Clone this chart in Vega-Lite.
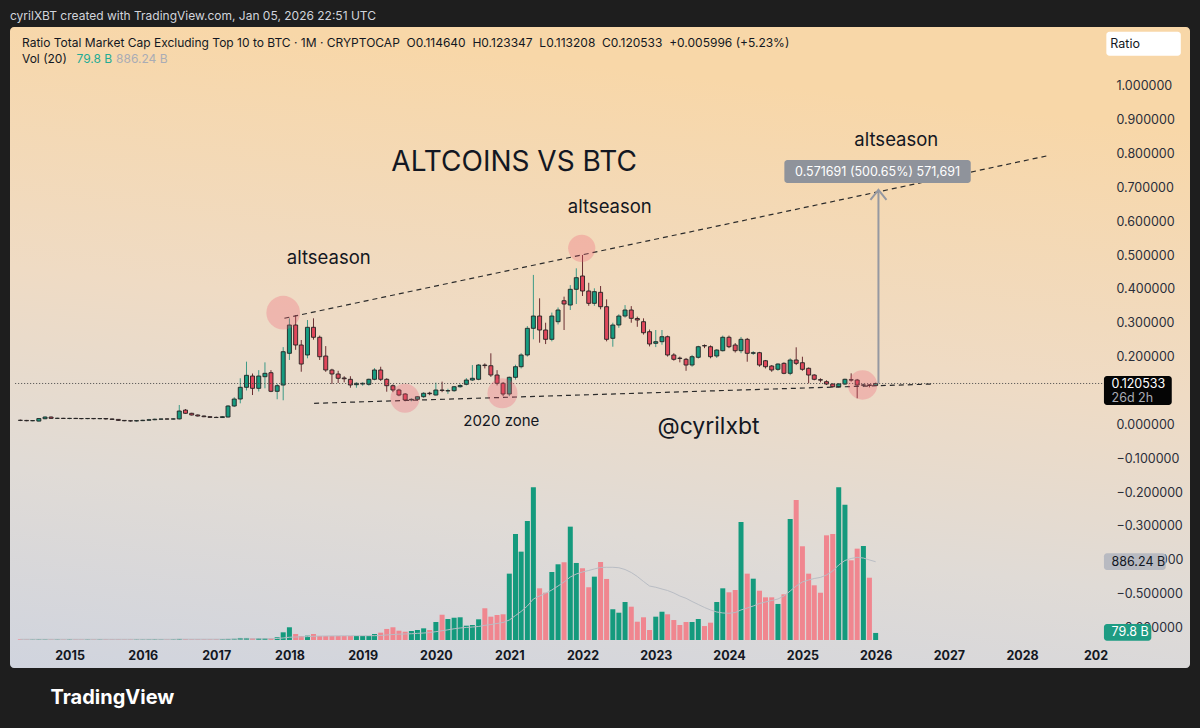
{
"$schema":"https://vega.github.io/schema/vega-lite/v6.json",
"width":1180,"height":641,
"autosize":{"type":"none"},
"padding":{"left":10,"top":27,"right":10,"bottom":60},
"background":"#1e1e1e",
"title":{"text":"cyrilXBT created with TradingView.com, Jan 05, 2026 22:51 UTC","anchor":"start","color":"#d1d4dc","fontSize":12,"font":"Inter","fontWeight":"normal","offset":4},
"config":{"view":{"stroke":null,"cornerRadius":4,"fill":{"gradient":"linear","x1":0.2,"y1":0,"x2":0,"y2":1,"stops":[{"offset":0,"color":"#f8d7a8"},{"offset":0.4,"color":"#efdbc4"},{"offset":0.7,"color":"#e0dbd6"},{"offset":1,"color":"#d0d4de"}]}}},
"datasets":{
"candles":[
{"d":"2014-05-01","o":0.0120,"h":0.0140,"l":0.0095,"c":0.0115,"v":7,"ma":8},
{"d":"2014-06-01","o":0.0115,"h":0.0130,"l":0.0090,"c":0.0105,"v":6,"ma":8},
{"d":"2014-07-01","o":0.0105,"h":0.0125,"l":0.0090,"c":0.0110,"v":6,"ma":8},
{"d":"2014-08-01","o":0.0095,"h":0.0185,"l":0.0085,"c":0.0170,"v":9,"ma":8},
{"d":"2014-09-01","o":0.0165,"h":0.0235,"l":0.0150,"c":0.0215,"v":9,"ma":8},
{"d":"2014-10-01","o":0.0215,"h":0.0230,"l":0.0160,"c":0.0175,"v":8,"ma":8},
{"d":"2014-11-01","o":0.0175,"h":0.0195,"l":0.0160,"c":0.0178,"v":7,"ma":8},
{"d":"2014-12-01","o":0.0178,"h":0.0190,"l":0.0160,"c":0.0172,"v":7,"ma":8},
{"d":"2015-01-01","o":0.0172,"h":0.0190,"l":0.0150,"c":0.0176,"v":8,"ma":8},
{"d":"2015-02-01","o":0.0176,"h":0.0190,"l":0.0160,"c":0.0170,"v":7,"ma":8},
{"d":"2015-03-01","o":0.0170,"h":0.0185,"l":0.0150,"c":0.0168,"v":7,"ma":8},
{"d":"2015-04-01","o":0.0168,"h":0.0180,"l":0.0150,"c":0.0173,"v":7,"ma":8},
{"d":"2015-05-01","o":0.0173,"h":0.0185,"l":0.0150,"c":0.0166,"v":7,"ma":8},
{"d":"2015-06-01","o":0.0166,"h":0.0180,"l":0.0150,"c":0.0171,"v":7,"ma":8},
{"d":"2015-07-01","o":0.0171,"h":0.0180,"l":0.0140,"c":0.0158,"v":8,"ma":8},
{"d":"2015-08-01","o":0.0158,"h":0.0170,"l":0.0130,"c":0.0145,"v":8,"ma":8},
{"d":"2015-09-01","o":0.0145,"h":0.0150,"l":0.0100,"c":0.0115,"v":8,"ma":8},
{"d":"2015-10-01","o":0.0115,"h":0.0125,"l":0.0090,"c":0.0105,"v":7,"ma":8},
{"d":"2015-11-01","o":0.0105,"h":0.0115,"l":0.0080,"c":0.0098,"v":8,"ma":8},
{"d":"2015-12-01","o":0.0098,"h":0.0120,"l":0.0080,"c":0.0108,"v":7,"ma":8},
{"d":"2016-01-01","o":0.0108,"h":0.0135,"l":0.0095,"c":0.0120,"v":7,"ma":8},
{"d":"2016-02-01","o":0.0120,"h":0.0160,"l":0.0105,"c":0.0135,"v":9,"ma":8},
{"d":"2016-03-01","o":0.0135,"h":0.0170,"l":0.0120,"c":0.0150,"v":10,"ma":8},
{"d":"2016-04-01","o":0.0150,"h":0.0170,"l":0.0130,"c":0.0158,"v":8,"ma":8},
{"d":"2016-05-01","o":0.0158,"h":0.0175,"l":0.0140,"c":0.0155,"v":8,"ma":8},
{"d":"2016-06-01","o":0.0155,"h":0.0175,"l":0.0140,"c":0.0160,"v":9,"ma":8},
{"d":"2016-07-01","o":0.0160,"h":0.0570,"l":0.0140,"c":0.0393,"v":12,"ma":9},
{"d":"2016-08-01","o":0.0420,"h":0.0450,"l":0.0310,"c":0.0325,"v":10,"ma":9},
{"d":"2016-09-01","o":0.0325,"h":0.0340,"l":0.0260,"c":0.0275,"v":8,"ma":9},
{"d":"2016-10-01","o":0.0275,"h":0.0290,"l":0.0230,"c":0.0245,"v":8,"ma":9},
{"d":"2016-11-01","o":0.0245,"h":0.0260,"l":0.0210,"c":0.0225,"v":8,"ma":9},
{"d":"2016-12-01","o":0.0225,"h":0.0240,"l":0.0190,"c":0.0205,"v":8,"ma":9},
{"d":"2017-01-01","o":0.0205,"h":0.0230,"l":0.0190,"c":0.0200,"v":9,"ma":9},
{"d":"2017-02-01","o":0.0200,"h":0.0240,"l":0.0190,"c":0.0225,"v":10,"ma":9},
{"d":"2017-03-01","o":0.0215,"h":0.0570,"l":0.0200,"c":0.0540,"v":12,"ma":10},
{"d":"2017-04-01","o":0.0540,"h":0.0800,"l":0.0510,"c":0.0747,"v":14,"ma":10},
{"d":"2017-05-01","o":0.0747,"h":0.1360,"l":0.0620,"c":0.1093,"v":23,"ma":11},
{"d":"2017-06-01","o":0.1093,"h":0.1850,"l":0.1000,"c":0.1447,"v":23,"ma":12},
{"d":"2017-07-01","o":0.1426,"h":0.1500,"l":0.0865,"c":0.1063,"v":19,"ma":12},
{"d":"2017-08-01","o":0.1063,"h":0.1600,"l":0.0970,"c":0.1426,"v":19,"ma":13},
{"d":"2017-09-01","o":0.1406,"h":0.1830,"l":0.1063,"c":0.1506,"v":19,"ma":13},
{"d":"2017-10-01","o":0.1524,"h":0.1600,"l":0.0950,"c":0.0975,"v":19,"ma":14},
{"d":"2017-11-01","o":0.0975,"h":0.1200,"l":0.0740,"c":0.1140,"v":31,"ma":17},
{"d":"2017-12-01","o":0.1160,"h":0.2280,"l":0.0710,"c":0.2144,"v":87,"ma":23},
{"d":"2018-01-01","o":0.2097,"h":0.3130,"l":0.1900,"c":0.2933,"v":144,"ma":31},
{"d":"2018-02-01","o":0.2933,"h":0.3228,"l":0.2200,"c":0.2342,"v":68,"ma":34},
{"d":"2018-03-01","o":0.2342,"h":0.2490,"l":0.1553,"c":0.1780,"v":45,"ma":36},
{"d":"2018-04-01","o":0.2047,"h":0.3080,"l":0.1950,"c":0.2865,"v":49,"ma":38},
{"d":"2018-05-01","o":0.2865,"h":0.3130,"l":0.2500,"c":0.2570,"v":68,"ma":42},
{"d":"2018-06-01","o":0.2570,"h":0.2620,"l":0.1900,"c":0.1996,"v":45,"ma":44},
{"d":"2018-07-01","o":0.2017,"h":0.2310,"l":0.1550,"c":0.1604,"v":45,"ma":45},
{"d":"2018-08-01","o":0.1604,"h":0.1640,"l":0.1190,"c":0.1486,"v":45,"ma":46},
{"d":"2018-09-01","o":0.1486,"h":0.1580,"l":0.1220,"c":0.1359,"v":45,"ma":47},
{"d":"2018-10-01","o":0.1368,"h":0.1420,"l":0.1240,"c":0.1345,"v":45,"ma":48},
{"d":"2018-11-01","o":0.1329,"h":0.1420,"l":0.1080,"c":0.1161,"v":45,"ma":48},
{"d":"2018-12-01","o":0.1170,"h":0.1240,"l":0.1080,"c":0.1210,"v":45,"ma":49},
{"d":"2019-01-01","o":0.1190,"h":0.1240,"l":0.1140,"c":0.1210,"v":45,"ma":49},
{"d":"2019-02-01","o":0.1181,"h":0.1350,"l":0.1140,"c":0.1329,"v":45,"ma":49},
{"d":"2019-03-01","o":0.1329,"h":0.1660,"l":0.1300,"c":0.1604,"v":68,"ma":49},
{"d":"2019-04-01","o":0.1604,"h":0.1700,"l":0.1280,"c":0.1329,"v":83,"ma":51},
{"d":"2019-05-01","o":0.1329,"h":0.1360,"l":0.0963,"c":0.1140,"v":125,"ma":57},
{"d":"2019-06-01","o":0.1140,"h":0.1180,"l":0.0950,"c":0.1013,"v":144,"ma":62},
{"d":"2019-07-01","o":0.1013,"h":0.1050,"l":0.0830,"c":0.0865,"v":105,"ma":66},
{"d":"2019-08-01","o":0.0895,"h":0.0920,"l":0.0680,"c":0.0718,"v":94,"ma":68},
{"d":"2019-09-01","o":0.0720,"h":0.0770,"l":0.0680,"c":0.0738,"v":102,"ma":71},
{"d":"2019-10-01","o":0.0738,"h":0.0830,"l":0.0700,"c":0.0815,"v":113,"ma":75},
{"d":"2019-11-01","o":0.0815,"h":0.0950,"l":0.0780,"c":0.0916,"v":132,"ma":79},
{"d":"2019-12-01","o":0.0920,"h":0.0960,"l":0.0860,"c":0.0905,"v":113,"ma":84},
{"d":"2020-01-01","o":0.0865,"h":0.1230,"l":0.0850,"c":0.1013,"v":204,"ma":94},
{"d":"2020-02-01","o":0.1013,"h":0.1260,"l":0.0950,"c":0.1000,"v":286,"ma":105},
{"d":"2020-03-01","o":0.0985,"h":0.1050,"l":0.0900,"c":0.0995,"v":238,"ma":115},
{"d":"2020-04-01","o":0.0993,"h":0.1130,"l":0.0960,"c":0.1110,"v":252,"ma":127},
{"d":"2020-05-01","o":0.1110,"h":0.1190,"l":0.1080,"c":0.1145,"v":257,"ma":136},
{"d":"2020-06-01","o":0.1181,"h":0.1365,"l":0.1150,"c":0.1308,"v":162,"ma":142},
{"d":"2020-07-01","o":0.1308,"h":0.1750,"l":0.1280,"c":0.1359,"v":170,"ma":147},
{"d":"2020-08-01","o":0.1329,"h":0.1780,"l":0.1300,"c":0.1751,"v":234,"ma":153},
{"d":"2020-09-01","o":0.1751,"h":0.1800,"l":0.1650,"c":0.1735,"v":359,"ma":166},
{"d":"2020-10-01","o":0.1730,"h":0.2097,"l":0.1400,"c":0.1456,"v":264,"ma":175},
{"d":"2020-11-01","o":0.1456,"h":0.1600,"l":0.1150,"c":0.1211,"v":283,"ma":187},
{"d":"2020-12-01","o":0.1211,"h":0.1250,"l":0.0830,"c":0.0895,"v":291,"ma":198},
{"d":"2021-01-01","o":0.0895,"h":0.1410,"l":0.0830,"c":0.1388,"v":751,"ma":226},
{"d":"2021-02-01","o":0.1388,"h":0.1760,"l":0.1320,"c":0.1701,"v":1200,"ma":277},
{"d":"2021-03-01","o":0.1701,"h":0.2100,"l":0.1650,"c":0.2047,"v":1000,"ma":323},
{"d":"2021-04-01","o":0.2047,"h":0.2900,"l":0.2000,"c":0.2835,"v":1347,"ma":385},
{"d":"2021-05-01","o":0.2835,"h":0.4412,"l":0.2510,"c":0.3198,"v":1729,"ma":464},
{"d":"2021-06-01","o":0.3198,"h":0.3721,"l":0.2410,"c":0.2785,"v":585,"ma":498},
{"d":"2021-07-01","o":0.2785,"h":0.3000,"l":0.2370,"c":0.2510,"v":535,"ma":529},
{"d":"2021-08-01","o":0.2510,"h":0.3300,"l":0.2450,"c":0.3198,"v":770,"ma":566},
{"d":"2021-09-01","o":0.3030,"h":0.3450,"l":0.2950,"c":0.3376,"v":857,"ma":611},
{"d":"2021-10-01","o":0.3650,"h":0.3770,"l":0.2785,"c":0.3553,"v":880,"ma":657},
{"d":"2021-11-01","o":0.3523,"h":0.4110,"l":0.3376,"c":0.3987,"v":1283,"ma":713},
{"d":"2021-12-01","o":0.3987,"h":0.4607,"l":0.3553,"c":0.4330,"v":872,"ma":747},
{"d":"2022-01-01","o":0.4380,"h":0.5000,"l":0.3790,"c":0.3937,"v":812,"ma":770},
{"d":"2022-02-01","o":0.3937,"h":0.4180,"l":0.3500,"c":0.3573,"v":597,"ma":787},
{"d":"2022-03-01","o":0.3573,"h":0.4017,"l":0.3500,"c":0.3917,"v":717,"ma":804},
{"d":"2022-04-01","o":0.3898,"h":0.4084,"l":0.3396,"c":0.3473,"v":883,"ma":821},
{"d":"2022-05-01","o":0.3473,"h":0.3690,"l":0.2450,"c":0.2510,"v":691,"ma":823},
{"d":"2022-06-01","o":0.2540,"h":0.3000,"l":0.2292,"c":0.2933,"v":348,"ma":823},
{"d":"2022-07-01","o":0.2933,"h":0.3250,"l":0.2850,"c":0.3198,"v":309,"ma":818},
{"d":"2022-08-01","o":0.3198,"h":0.3520,"l":0.3150,"c":0.3376,"v":430,"ma":798},
{"d":"2022-09-01","o":0.3376,"h":0.3490,"l":0.3000,"c":0.3130,"v":377,"ma":764},
{"d":"2022-10-01","o":0.3125,"h":0.3180,"l":0.2880,"c":0.3080,"v":207,"ma":719},
{"d":"2022-11-01","o":0.3030,"h":0.3130,"l":0.2650,"c":0.2705,"v":257,"ma":662},
{"d":"2022-12-01","o":0.2735,"h":0.2800,"l":0.2300,"c":0.2372,"v":113,"ma":611},
{"d":"2023-01-01","o":0.2392,"h":0.2785,"l":0.2280,"c":0.2440,"v":264,"ma":597},
{"d":"2023-02-01","o":0.2440,"h":0.2785,"l":0.2350,"c":0.2587,"v":320,"ma":577},
{"d":"2023-03-01","o":0.2587,"h":0.2620,"l":0.2000,"c":0.2047,"v":291,"ma":560},
{"d":"2023-04-01","o":0.2047,"h":0.2100,"l":0.1880,"c":0.1920,"v":226,"ma":532},
{"d":"2023-05-01","o":0.1955,"h":0.2000,"l":0.1830,"c":0.1945,"v":170,"ma":498},
{"d":"2023-06-01","o":0.1920,"h":0.1960,"l":0.1580,"c":0.1751,"v":204,"ma":472},
{"d":"2023-07-01","o":0.1751,"h":0.2050,"l":0.1700,"c":0.1997,"v":204,"ma":436},
{"d":"2023-08-01","o":0.1979,"h":0.2320,"l":0.1940,"c":0.2292,"v":238,"ma":402},
{"d":"2023-09-01","o":0.2325,"h":0.2360,"l":0.2250,"c":0.2315,"v":158,"ma":368},
{"d":"2023-10-01","o":0.2292,"h":0.2330,"l":0.1950,"c":0.1997,"v":196,"ma":340},
{"d":"2023-11-01","o":0.2017,"h":0.2220,"l":0.1960,"c":0.2194,"v":430,"ma":317},
{"d":"2023-12-01","o":0.2174,"h":0.2620,"l":0.2150,"c":0.2570,"v":585,"ma":306},
{"d":"2024-01-01","o":0.2570,"h":0.2620,"l":0.2250,"c":0.2292,"v":540,"ma":302},
{"d":"2024-02-01","o":0.2342,"h":0.2400,"l":0.2120,"c":0.2174,"v":566,"ma":311},
{"d":"2024-03-01","o":0.2174,"h":0.2580,"l":0.2100,"c":0.2510,"v":1336,"ma":340},
{"d":"2024-04-01","o":0.2510,"h":0.2550,"l":0.1849,"c":0.2097,"v":751,"ma":362},
{"d":"2024-05-01","o":0.2097,"h":0.2160,"l":0.2050,"c":0.2115,"v":694,"ma":385},
{"d":"2024-06-01","o":0.2115,"h":0.2140,"l":0.1700,"c":0.1751,"v":558,"ma":413},
{"d":"2024-07-01","o":0.1878,"h":0.1900,"l":0.1650,"c":0.1701,"v":483,"ma":430},
{"d":"2024-08-01","o":0.1722,"h":0.1750,"l":0.1550,"c":0.1604,"v":483,"ma":447},
{"d":"2024-09-01","o":0.1624,"h":0.1800,"l":0.1580,"c":0.1781,"v":408,"ma":464},
{"d":"2024-10-01","o":0.1801,"h":0.1830,"l":0.1480,"c":0.1506,"v":517,"ma":498},
{"d":"2024-11-01","o":0.1506,"h":0.1950,"l":0.1450,"c":0.1899,"v":1370,"ma":555},
{"d":"2024-12-01","o":0.1899,"h":0.2274,"l":0.1750,"c":0.1801,"v":1585,"ma":611},
{"d":"2025-01-01","o":0.1819,"h":0.1996,"l":0.1580,"c":0.1624,"v":1061,"ma":657},
{"d":"2025-02-01","o":0.1654,"h":0.1680,"l":0.1211,"c":0.1456,"v":751,"ma":679},
{"d":"2025-03-01","o":0.1456,"h":0.1480,"l":0.1300,"c":0.1329,"v":619,"ma":696},
{"d":"2025-04-01","o":0.1318,"h":0.1360,"l":0.1240,"c":0.1305,"v":535,"ma":708},
{"d":"2025-05-01","o":0.1258,"h":0.1300,"l":0.1160,"c":0.1190,"v":1185,"ma":736},
{"d":"2025-06-01","o":0.1190,"h":0.1210,"l":0.1080,"c":0.1110,"v":1200,"ma":781},
{"d":"2025-07-01","o":0.1110,"h":0.1220,"l":0.1080,"c":0.1193,"v":1729,"ma":849},
{"d":"2025-08-01","o":0.1190,"h":0.1350,"l":0.1160,"c":0.1329,"v":1532,"ma":900},
{"d":"2025-09-01","o":0.1318,"h":0.1506,"l":0.1260,"c":0.1305,"v":902,"ma":923},
{"d":"2025-10-01","o":0.1308,"h":0.1340,"l":0.0768,"c":0.1160,"v":1034,"ma":936},
{"d":"2025-11-01","o":0.1155,"h":0.1200,"l":0.1100,"c":0.1165,"v":1064,"ma":928},
{"d":"2025-12-01","o":0.1165,"h":0.1180,"l":0.1090,"c":0.11464,"v":705,"ma":906},
{"d":"2026-01-01","o":0.11464,"h":0.123347,"l":0.113208,"c":0.120533,"v":79.8,"ma":886.24}
],
"trend":[
{"d":"2017-12-07","p":0.3132,"k":"upper"},{"d":"2028-05-13","p":0.7939,"k":"upper"},
{"d":"2018-05-04","p":0.062,"k":"lower"},{"d":"2026-10-10","p":0.119,"k":"lower"}
],
"circles":[
{"d":"2017-12-01","p":0.3296,"r":1134},
{"d":"2021-12-28","p":0.5198,"r":740},
{"d":"2019-07-31","p":0.0768,"r":840},
{"d":"2020-11-28","p":0.0916,"r":900},
{"d":"2025-10-28","p":0.1161,"r":860}
],
"notes":[
{"d":"2018-07-16","p":0.4897,"t":"altseason"},
{"d":"2022-05-17","p":0.6418,"t":"altseason"},
{"d":"2026-04-14","p":0.8396,"t":"altseason"}
],
"boxes":[
{"d1":"2029-02-24","d2":"2030-03-02","p1":1.0886,"p2":1.1595,"k":"white"},
{"d1":"2029-02-12","d2":"2030-01-16","p1":0.0571,"p2":0.1426,"k":"black"},
{"d1":"2029-02-12","d2":"2029-12-17","p1":-0.4303,"p2":-0.381,"k":"gray"},
{"d1":"2029-02-12","d2":"2029-10-06","p1":-0.6391,"p2":-0.5898,"k":"green"},
{"d1":"2024-10-03","d2":"2027-04-20","p1":0.7126,"p2":0.7806,"k":"measure"}
],
"labels":[
{"d":"2014-05-09","p":1.1261,"t":"Ratio Total Market Cap Excluding Top 10 to BTC · 1M · CRYPTOCAP\u00a0\u00a0O0.114640\u00a0\u00a0H0.123347\u00a0\u00a0L0.113208\u00a0\u00a0C0.120533\u00a0\u00a0+0.005996 (+5.23%)","k":"dark"},
{"d":"2014-05-09","p":1.0789,"t":"Vol (20)","k":"dark"},
{"d":"2015-02-05","p":1.0789,"t":"79.8 B","k":"green"},
{"d":"2015-08-21","p":1.0789,"t":"886.24 B","k":"gray"}
],
"sidelabels":[
{"d":"2029-03-16","p":1.124,"t":"Ratio","k":"dark"},
{"d":"2029-03-22","p":0.1205,"t":"0.120533","k":"white"},
{"d":"2029-03-22","p":0.0786,"t":"26d 2h","k":"gray"},
{"d":"2029-03-22","p":-0.4058,"t":"886.24 B","k":"dark"},
{"d":"2029-03-22","p":-0.6143,"t":"79.8 B","k":"white"}
]
},
"layer":[
{
"data":{"name":"candles"},
"layer":[
{"mark":{"type":"bar","size":5},
 "encoding":{
  "x":{"field":"d","type":"temporal","scale":{"type":"utc","nice":false,"domain":[{"year":2014,"month":4,"date":4,"hours":4,"utc":true},{"year":2030,"month":3,"date":23,"utc":true}]}},
  "y":{"field":"v","type":"quantitative","scale":{"domain":[-317,6939],"nice":false,"zero":false},"axis":null},
  "y2":{"datum":0},
  "color":{"condition":{"test":"datum.c >= datum.o","value":"#149a7d"},"value":"#f0868f"}}},
{"mark":{"type":"line","color":"#b9bdc4","strokeWidth":1},
 "encoding":{
  "x":{"field":"d","type":"temporal"},
  "y":{"field":"ma","type":"quantitative","axis":null}}}
]
},
{
"layer":[
{"data":{"name":"candles"},
 "mark":{"type":"rule","strokeWidth":1},
 "encoding":{
  "x":{"field":"d","type":"temporal","scale":{"type":"utc","nice":false,"domain":[{"year":2014,"month":4,"date":4,"hours":4,"utc":true},{"year":2030,"month":3,"date":23,"utc":true}]},
   "axis":{"orient":"bottom","offset":-25,"values":[{"year":2015,"utc":true},{"year":2016,"utc":true},{"year":2017,"utc":true},{"year":2018,"utc":true},{"year":2019,"utc":true},{"year":2020,"utc":true},{"year":2021,"utc":true},{"year":2022,"utc":true},{"year":2023,"utc":true},{"year":2024,"utc":true},{"year":2025,"utc":true},{"year":2026,"utc":true},{"year":2027,"utc":true},{"year":2028,"utc":true},{"year":2029,"utc":true}],
   "format":"%Y","labelExpr":"utcyear(datum.value) == 2029 ? '202' : datum.label","labelFont":"Inter","labelFontWeight":"bold","labelFontSize":12.5,"labelColor":"#131722","labelPadding":6,"domain":false,"ticks":false,"grid":false,"labelFlush":false,"labelOverlap":false,
   "title":"TradingView","titleX":40,"titleY":54,"titleAlign":"left","titleAnchor":"start","titleBaseline":"middle","titleFont":"Inter","titleFontSize":20,"titleFontWeight":"bold","titleColor":"#ffffff"}},
  "y":{"field":"l","type":"quantitative","scale":{"domain":[-0.7197,1.1734],"nice":false,"zero":false},
   "axis":{"orient":"right","offset":-74,"values":[-0.6,-0.5,-0.4,-0.3,-0.2,-0.1,0,0.1,0.2,0.3,0.4,0.5,0.6,0.7,0.8,0.9,1.0],"format":".6f","labelFont":"Inter","labelFontSize":12.5,"labelColor":"#2a2e39","labelPadding":0,"labelAlign":"left","domain":false,"ticks":false,"grid":false,"title":null,"labelOverlap":false,"labelFlush":false}},
  "y2":{"field":"h"},
  "color":{"condition":{"test":"datum.c >= datum.o","value":"#3d9a86"},"value":"#6b2e32"}}},
{"data":{"name":"candles"},
 "mark":{"type":"bar","size":4,"stroke":"#222222","strokeWidth":0.9},
 "encoding":{
  "x":{"field":"d","type":"temporal"},
  "y":{"field":"o","type":"quantitative"},
  "y2":{"field":"c"},
  "color":{"condition":{"test":"datum.c >= datum.o","value":"#169b80"},"value":"#e0475b"}}},
{"data":{"values":[{"d1":"2014-04-05","d2":"2029-02-12","p":0.120533}]},
 "mark":{"type":"rule","color":"#4a4a4a","strokeWidth":1,"strokeDash":[1,2]},
 "encoding":{"x":{"field":"d1","type":"temporal"},"x2":{"field":"d2"},"y":{"field":"p","type":"quantitative"}}},
{"data":{"name":"trend"},
 "mark":{"type":"line","color":"#2b2b2b","strokeWidth":1.2,"strokeDash":[5,4]},
 "encoding":{"x":{"field":"d","type":"temporal"},"y":{"field":"p","type":"quantitative"},"detail":{"field":"k"}}},
{"data":{"name":"circles"},
 "mark":{"type":"point","filled":true,"shape":"circle","color":"#f2576f","opacity":0.28},
 "encoding":{"x":{"field":"d","type":"temporal"},"y":{"field":"p","type":"quantitative"},"size":{"field":"r","type":"quantitative","scale":null}}},
{"data":{"values":[{"d":"2026-01-15","p1":0.120533,"p2":0.6922}]},
 "mark":{"type":"rule","color":"#9598a1","strokeWidth":2},
 "encoding":{"x":{"field":"d","type":"temporal"},"y":{"field":"p1","type":"quantitative"},"y2":{"field":"p2"}}},
{"data":{"values":[{"d":"2025-12-06","p":0.6626},{"d":"2026-01-15","p":0.6922},{"d":"2026-02-24","p":0.6626}]},
 "mark":{"type":"line","color":"#9598a1","strokeWidth":2},
 "encoding":{"x":{"field":"d","type":"temporal"},"y":{"field":"p","type":"quantitative"}}},
{"data":{"name":"boxes"},
 "mark":{"type":"rect","cornerRadius":3},
 "encoding":{"x":{"field":"d1","type":"temporal"},"x2":{"field":"d2"},"y":{"field":"p1","type":"quantitative"},"y2":{"field":"p2"},
  "fill":{"field":"k","type":"nominal","legend":null,"scale":{"domain":["white","black","gray","green","measure"],"range":["#ffffff","#050505","#b8bac1","#1e9c83","#8f939b"]}}}},
{"data":{"values":[{"d":"2026-01-11","p":0.7466,"t":"0.571691 (500.65%) 571,691"}]},
 "mark":{"type":"text","align":"center","baseline":"middle","font":"Inter","fontSize":12.5,"color":"#ffffff"},
 "encoding":{"x":{"field":"d","type":"temporal"},"y":{"field":"p","type":"quantitative"},"text":{"field":"t"}}},
{"data":{"name":"notes"},
 "mark":{"type":"text","align":"center","baseline":"middle","font":"Inter","fontSize":18.5,"color":"#131722"},
 "encoding":{"x":{"field":"d","type":"temporal"},"y":{"field":"p","type":"quantitative"},"text":{"field":"t"}}},
{"data":{"values":[{"d":"2021-01-25","p":0.7717,"t":"ALTCOINS VS BTC"}]},
 "mark":{"type":"text","align":"center","baseline":"middle","font":"Inter","fontSize":28,"color":"#131722"},
 "encoding":{"x":{"field":"d","type":"temporal"},"y":{"field":"p","type":"quantitative"},"text":{"field":"t"}}},
{"data":{"values":[{"d":"2020-11-22","p":0.0097,"t":"2020 zone"}]},
 "mark":{"type":"text","align":"center","baseline":"middle","font":"Inter","fontSize":15,"color":"#131722"},
 "encoding":{"x":{"field":"d","type":"temporal"},"y":{"field":"p","type":"quantitative"},"text":{"field":"t"}}},
{"data":{"values":[{"d":"2023-09-21","p":-0.008,"t":"@cyrilxbt"}]},
 "mark":{"type":"text","align":"center","baseline":"middle","font":"Inter","fontSize":23,"color":"#131722"},
 "encoding":{"x":{"field":"d","type":"temporal"},"y":{"field":"p","type":"quantitative"},"text":{"field":"t"}}},
{"data":{"name":"labels"},
 "mark":{"type":"text","align":"left","baseline":"middle","font":"Inter","fontSize":12},
 "encoding":{"x":{"field":"d","type":"temporal"},"y":{"field":"p","type":"quantitative"},"text":{"field":"t"},
  "color":{"field":"k","type":"nominal","legend":null,"scale":{"domain":["dark","green","gray","white"],"range":["#131722","#22ab94","#a9acb5","#ffffff"]}}}},
{"data":{"name":"sidelabels"},
 "mark":{"type":"text","align":"left","baseline":"middle","font":"Inter","fontSize":12.5},
 "encoding":{"x":{"field":"d","type":"temporal"},"y":{"field":"p","type":"quantitative"},"text":{"field":"t"},
  "color":{"field":"k","type":"nominal","legend":null}}}
]
}
],
"resolve":{"scale":{"y":"independent"}}
}
